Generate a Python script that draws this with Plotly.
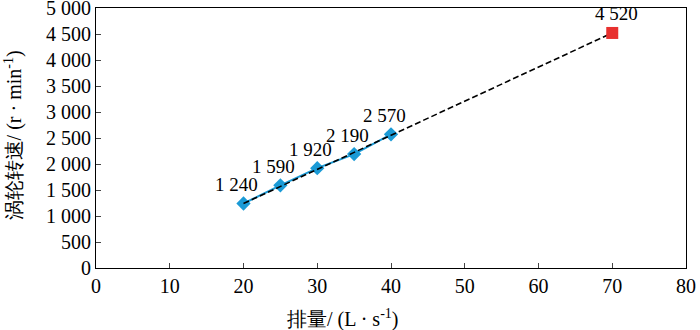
import plotly.graph_objects as go

flow = [20, 25, 30, 35, 40]
speed = [1240, 1590, 1920, 2190, 2570]
speed_labels = ["1 240", "1 590", "1 920", "2 190", "2 570"]
pred_flow = [70]
pred_speed = [4520]
pred_labels = ["4 520"]
trend_flow = [20, 70]
trend_speed = [1240, 4520]
x_ticks = [0, 10, 20, 30, 40, 50, 60, 70, 80]
y_ticks = [0, 500, 1000, 1500, 2000, 2500, 3000, 3500, 4000, 4500, 5000]
y_tick_labels = ["0", "500", "1 000", "1 500", "2 000", "2 500", "3 000", "3 500", "4 000", "4 500", "5 000"]
x_title = "排量/ (L · s<sup>-1</sup>)"
y_title = "涡轮转速/ (r · min<sup>-1</sup>)"

serif = "Liberation Serif"
tf = dict(family=serif, size=20, color="black")
lf = dict(family=serif, size=19, color="black")
fig = go.Figure()
fig.add_trace(go.Scatter(x=flow, y=speed, mode="lines+markers",
                         line=dict(color="#1a9ad6", width=2),
                         marker=dict(symbol="diamond", size=11, color="#1a9ad6"),
                         showlegend=False))
fig.add_trace(go.Scatter(x=trend_flow, y=trend_speed, mode="lines",
                         line=dict(color="black", width=1.6, dash="6px,3px"),
                         showlegend=False))
fig.add_trace(go.Scatter(x=pred_flow, y=pred_speed, mode="markers",
                         marker=dict(symbol="square", size=12, color="#e8312f"),
                         showlegend=False))

for xv, yv, t in zip(flow, speed, speed_labels):
    fig.add_annotation(x=xv, y=yv, text=t, showarrow=False, font=lf,
                       xanchor="center", yanchor="middle", xshift=-7, yshift=19)
for xv, yv, t in zip(pred_flow, pred_speed, pred_labels):
    fig.add_annotation(x=xv, y=yv, text=t, showarrow=False, font=lf,
                       xanchor="center", yanchor="middle", xshift=4, yshift=19)

fig.add_annotation(xref="paper", yref="paper", x=0.4186, y=0, text=x_title,
                   showarrow=False, font=tf, xanchor="center", yanchor="middle",
                   yshift=-50)
fig.add_annotation(xref="paper", yref="paper", x=0, y=0.51, text=y_title,
                   showarrow=False, font=tf, xanchor="center", yanchor="middle",
                   xshift=-83, textangle=-90)

fig.update_layout(
    width=700, height=330,
    margin=dict(l=96, r=14, t=8, b=62),
    plot_bgcolor="white", paper_bgcolor="white",
    font=tf,
)
fig.update_xaxes(range=[0, 80], tickvals=x_ticks, ticks="inside", ticklen=5,
                 tickfont=tf, ticklabeloverflow="allow",
                 showline=True, linecolor="black", linewidth=1.2, mirror=True,
                 showgrid=False, zeroline=False, automargin=False)
fig.update_yaxes(range=[0, 5000], tickvals=y_ticks, ticktext=y_tick_labels,
                 ticks="inside", ticklen=5, tickfont=tf, ticklabeloverflow="allow",
                 showline=True, linecolor="black", linewidth=1.2, mirror=True,
                 showgrid=False, zeroline=False, automargin=False)
fig.write_html("out.html", config={"displayModeBar": False},
               post_script="document.body.style.margin='0';")
